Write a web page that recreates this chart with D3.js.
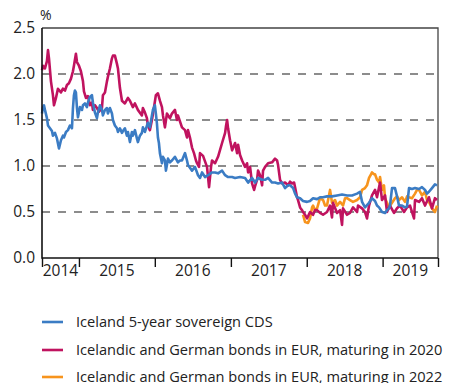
<!DOCTYPE html>
<html>
<head>
<meta charset="utf-8">
<script src="https://cdn.jsdelivr.net/npm/d3@7"></script>
<style>
  html, body { margin: 0; padding: 0; background: #fff; }
  svg { display: block; font-family: "Open Sans", "DejaVu Sans", sans-serif; }
</style>
</head>
<body>
<svg id="chart" width="454" height="383"></svg>
<script>
// Series: [decimal year, percent]
const cdsSeries = [
  [2014.513,1.57],[2014.526,1.64],[2014.539,1.66],[2014.552,1.61],[2014.578,1.52],[2014.592,1.44],[2014.618,1.41],[2014.644,1.38],
  [2014.657,1.33],[2014.684,1.36],[2014.710,1.30],[2014.737,1.19],[2014.763,1.28],[2014.789,1.33],[2014.802,1.31],[2014.829,1.37],
  [2014.855,1.39],[2014.881,1.44],[2014.908,1.41],[2014.921,1.63],[2014.934,1.77],[2014.947,1.82],[2014.960,1.80],[2014.974,1.63],
  [2014.987,1.53],[2015.013,1.64],[2015.040,1.61],[2015.053,1.66],[2015.079,1.68],[2015.105,1.64],[2015.119,1.69],[2015.145,1.75],
  [2015.171,1.77],[2015.184,1.69],[2015.211,1.58],[2015.237,1.52],[2015.250,1.58],[2015.277,1.66],[2015.303,1.61],[2015.316,1.55],
  [2015.343,1.61],[2015.369,1.63],[2015.382,1.57],[2015.408,1.63],[2015.435,1.57],[2015.448,1.50],[2015.474,1.44],[2015.501,1.41],
  [2015.514,1.37],[2015.540,1.41],[2015.567,1.36],[2015.580,1.38],[2015.606,1.41],[2015.632,1.33],[2015.646,1.37],[2015.672,1.26],
  [2015.698,1.37],[2015.711,1.33],[2015.738,1.39],[2015.764,1.30],[2015.777,1.26],[2015.804,1.33],[2015.830,1.36],[2015.843,1.42],
  [2015.870,1.37],[2015.909,1.47],[2015.935,1.42],[2015.962,1.55],[2015.975,1.61],[2016.001,1.66],[2016.014,1.57],[2016.028,1.46],
  [2016.041,1.31],[2016.054,1.25],[2016.067,1.14],[2016.094,1.03],[2016.107,1.10],[2016.133,1.06],[2016.146,0.95],[2016.159,1.01],
  [2016.173,1.08],[2016.199,1.04],[2016.225,1.06],[2016.265,1.10],[2016.304,1.04],[2016.331,1.06],[2016.357,1.06],[2016.397,1.14],
  [2016.423,1.06],[2016.436,1.01],[2016.462,0.98],[2016.489,0.95],[2016.528,0.99],[2016.568,0.90],[2016.594,0.87],[2016.621,0.93],
  [2016.660,0.88],[2016.700,0.90],[2016.752,0.93],[2016.792,0.93],[2016.831,0.92],[2016.884,0.95],[2016.924,0.90],[2016.963,0.88],
  [2017.016,0.88],[2017.055,0.87],[2017.121,0.88],[2017.187,0.87],[2017.227,0.82],[2017.279,0.87],[2017.319,0.82],[2017.358,0.87],
  [2017.411,0.85],[2017.451,0.85],[2017.490,0.87],[2017.543,0.82],[2017.582,0.82],[2017.622,0.81],[2017.675,0.82],[2017.714,0.76],
  [2017.754,0.79],[2017.780,0.79],[2017.820,0.76],[2017.846,0.70],[2017.872,0.66],[2017.912,0.65],[2017.951,0.62],[2018.004,0.61],
  [2018.043,0.62],[2018.083,0.65],[2018.136,0.64],[2018.175,0.66],[2018.215,0.66],[2018.267,0.67],[2018.333,0.67],[2018.399,0.68],
  [2018.465,0.69],[2018.531,0.68],[2018.597,0.68],[2018.663,0.70],[2018.702,0.72],[2018.729,0.61],[2018.768,0.55],[2018.821,0.60],
  [2018.860,0.65],[2018.900,0.62],[2018.926,0.57],[2018.953,0.55],[2018.992,0.50],[2019.032,0.49],[2019.058,0.52],[2019.084,0.54],
  [2019.097,0.57],[2019.124,0.76],[2019.163,0.76],[2019.190,0.67],[2019.216,0.57],[2019.256,0.57],[2019.295,0.55],[2019.322,0.56],
  [2019.348,0.76],[2019.387,0.75],[2019.427,0.76],[2019.480,0.75],[2019.519,0.77],[2019.559,0.74],[2019.585,0.70],[2019.611,0.72],
  [2019.651,0.76],[2019.690,0.80],[2019.717,0.79]
];

const bonds2020 = [
  [2014.513,2.04],[2014.526,2.09],[2014.552,2.06],[2014.578,2.14],[2014.592,2.26],[2014.605,2.17],[2014.631,1.92],[2014.657,1.77],
  [2014.671,1.66],[2014.697,1.74],[2014.723,1.84],[2014.763,1.80],[2014.789,1.84],[2014.816,1.82],[2014.842,1.88],[2014.868,1.90],
  [2014.895,1.95],[2014.921,2.03],[2014.934,2.09],[2014.960,2.22],[2014.974,2.13],[2015.000,2.09],[2015.026,2.03],[2015.053,1.92],
  [2015.066,1.81],[2015.092,1.74],[2015.119,1.76],[2015.145,1.66],[2015.171,1.69],[2015.184,1.61],[2015.211,1.66],[2015.237,1.63],
  [2015.264,1.59],[2015.303,1.63],[2015.316,1.77],[2015.343,1.80],[2015.369,1.92],[2015.382,1.97],[2015.408,2.06],[2015.435,2.17],
  [2015.448,2.20],[2015.474,2.20],[2015.501,2.11],[2015.514,2.06],[2015.540,1.85],[2015.567,1.71],[2015.606,1.68],[2015.646,1.74],
  [2015.672,1.71],[2015.711,1.64],[2015.738,1.68],[2015.777,1.61],[2015.830,1.55],[2015.843,1.63],[2015.870,1.58],[2015.896,1.52],
  [2015.909,1.44],[2015.935,1.39],[2015.962,1.50],[2015.988,1.63],[2016.014,1.77],[2016.041,1.79],[2016.067,1.71],[2016.094,1.64],
  [2016.107,1.55],[2016.133,1.42],[2016.159,1.57],[2016.199,1.52],[2016.225,1.57],[2016.265,1.61],[2016.291,1.50],[2016.304,1.55],
  [2016.357,1.42],[2016.397,1.39],[2016.423,1.31],[2016.436,1.39],[2016.462,1.31],[2016.489,1.20],[2016.515,1.14],[2016.541,1.06],
  [2016.555,1.03],[2016.581,0.99],[2016.594,1.14],[2016.634,1.11],[2016.686,0.99],[2016.713,0.77],[2016.739,0.99],[2016.752,1.06],
  [2016.792,1.03],[2016.831,1.10],[2016.884,1.25],[2016.924,1.36],[2016.937,1.44],[2016.950,1.50],[2016.963,1.41],[2016.989,1.28],
  [2017.016,1.17],[2017.055,1.25],[2017.082,1.14],[2017.095,1.23],[2017.121,1.12],[2017.148,1.06],[2017.187,0.99],[2017.213,1.03],
  [2017.227,0.93],[2017.253,0.99],[2017.279,0.81],[2017.306,0.74],[2017.319,0.78],[2017.345,0.85],[2017.358,0.95],[2017.385,0.90],
  [2017.411,0.79],[2017.424,0.95],[2017.451,0.99],[2017.490,1.03],[2017.543,1.04],[2017.582,1.08],[2017.609,1.06],[2017.622,1.01],
  [2017.648,0.85],[2017.675,0.81],[2017.714,0.82],[2017.754,0.79],[2017.780,0.83],[2017.806,0.81],[2017.833,0.82],[2017.846,0.77],
  [2017.872,0.66],[2017.885,0.63],[2017.912,0.55],[2017.938,0.52],[2017.951,0.50],[2017.978,0.47],[2018.004,0.43],[2018.043,0.50],
  [2018.083,0.47],[2018.109,0.52],[2018.136,0.52],[2018.175,0.49],[2018.215,0.47],[2018.267,0.50],[2018.307,0.57],[2018.333,0.44],
  [2018.346,0.60],[2018.399,0.49],[2018.439,0.52],[2018.465,0.36],[2018.478,0.54],[2018.531,0.47],[2018.570,0.49],[2018.610,0.55],
  [2018.663,0.50],[2018.676,0.57],[2018.729,0.54],[2018.768,0.50],[2018.794,0.43],[2018.821,0.57],[2018.860,0.68],[2018.900,0.74],
  [2018.926,0.66],[2018.966,0.82],[2018.992,0.63],[2019.032,0.68],[2019.058,0.50],[2019.097,0.57],[2019.150,0.49],[2019.190,0.54],
  [2019.229,0.57],[2019.282,0.50],[2019.322,0.55],[2019.361,0.57],[2019.414,0.43],[2019.427,0.63],[2019.480,0.61],[2019.519,0.65],
  [2019.559,0.57],[2019.611,0.66],[2019.651,0.54],[2019.690,0.65],[2019.717,0.63]
];

const bonds2022 = [
  [2017.951,0.47],[2017.978,0.39],[2018.017,0.38],[2018.043,0.43],[2018.070,0.55],[2018.083,0.57],[2018.109,0.52],[2018.136,0.54],
  [2018.175,0.65],[2018.215,0.63],[2018.241,0.57],[2018.267,0.57],[2018.307,0.74],[2018.333,0.60],[2018.373,0.63],[2018.399,0.57],
  [2018.439,0.61],[2018.478,0.57],[2018.505,0.65],[2018.531,0.65],[2018.570,0.63],[2018.610,0.61],[2018.663,0.63],[2018.702,0.66],
  [2018.729,0.74],[2018.768,0.76],[2018.794,0.79],[2018.821,0.87],[2018.847,0.91],[2018.860,0.93],[2018.887,0.91],[2018.900,0.91],
  [2018.926,0.85],[2018.953,0.82],[2018.966,0.88],[2018.992,0.74],[2019.018,0.79],[2019.032,0.65],[2019.058,0.60],[2019.084,0.55],
  [2019.124,0.60],[2019.163,0.65],[2019.190,0.67],[2019.216,0.63],[2019.256,0.66],[2019.295,0.61],[2019.322,0.67],[2019.348,0.66],
  [2019.387,0.65],[2019.427,0.70],[2019.453,0.74],[2019.480,0.74],[2019.519,0.68],[2019.559,0.72],[2019.585,0.63],[2019.611,0.61],
  [2019.651,0.54],[2019.690,0.50],[2019.717,0.57]
];

const seriesNames = [
  "Iceland 5-year sovereign CDS",
  "Icelandic and German bonds in EUR, maturing in 2020",
  "Icelandic and German bonds in EUR, maturing in 2022"
];
const seriesColors = ["#3b7cc4", "#c0135f", "#f7941d"];
const yTicks = [0, 0.5, 1.0, 1.5, 2.0, 2.5];
const gridTicks = [0.5, 1.0, 1.5, 2.0];
const yearLabels = [2014, 2015, 2016, 2017, 2018, 2019];
const xStart = 2014.513, xEnd = 2019.730;

// decimal year -> Date (UTC)
function toDate(t) {
  const yr = Math.floor(t);
  const a = Date.UTC(yr, 0, 1), b = Date.UTC(yr + 1, 0, 1);
  return new Date(a + (t - yr) * (b - a));
}

const svg = d3.select("#chart");
const plot = { left: 42, right: 438, top: 28, bottom: 258 };

const x = d3.scaleUtc().domain([toDate(xStart), toDate(xEnd)]).range([plot.left, plot.right]);
const y = d3.scaleLinear().domain([0, 2.5]).range([plot.bottom, plot.top]);

// dashed gridlines
svg.append("g").selectAll("line").data(gridTicks).join("line")
  .attr("x1", plot.left).attr("x2", plot.right)
  .attr("y1", d => y(d)).attr("y2", d => y(d))
  .attr("stroke", "#1a1a1a").attr("stroke-width", 1.2)
  .attr("stroke-dasharray", "8,8");

// frame: top and right
svg.append("path")
  .attr("d", `M${plot.left},${plot.top}H${plot.right}V${plot.bottom}`)
  .attr("fill", "none").attr("stroke", "#444").attr("stroke-width", 1.3);

// series lines
const line = d3.line().x(d => x(toDate(d[0]))).y(d => y(d[1]));
const drawOrder = [[bonds2022, 2], [bonds2020, 1], [cdsSeries, 0]];
svg.append("g").selectAll("path").data(drawOrder).join("path")
  .attr("d", d => line(d[0]))
  .attr("fill", "none")
  .attr("stroke", d => seriesColors[d[1]])
  .attr("stroke-width", 2.6)
  .attr("stroke-linejoin", "round");

// y axis
const yAxis = d3.axisLeft(y).tickValues(yTicks).tickSize(0).tickPadding(7).tickFormat(d3.format(".1f"));
const gy = svg.append("g").attr("transform", `translate(${plot.left},0)`).call(yAxis);
gy.select(".domain").remove();
gy.selectAll("text").attr("font-size", 15.5).attr("fill", "#222")
  .attr("font-family", '"Open Sans", sans-serif');

svg.append("line").attr("x1", plot.left).attr("x2", plot.left).attr("y1", plot.top).attr("y2", plot.bottom + 0.75)
  .attr("stroke", "#111").attr("stroke-width", 1.6);

// x axis: ticks on year boundaries and ends
const tickDates = [toDate(xStart)]
  .concat([2015, 2016, 2017, 2018, 2019].map(yr => new Date(Date.UTC(yr, 0, 1))))
  .concat([toDate(xEnd)]);
const xAxis = d3.axisBottom(x).tickValues(tickDates).tickSize(9).tickFormat("");
const gx = svg.append("g").attr("transform", `translate(0,${plot.bottom})`).call(xAxis);
gx.select(".domain").remove();
gx.selectAll(".tick line").attr("stroke", "#111").attr("stroke-width", 1.4);
svg.append("line").attr("x1", plot.left).attr("x2", plot.right).attr("y1", plot.bottom).attr("y2", plot.bottom)
  .attr("stroke", "#111").attr("stroke-width", 1.6);

// year labels centred in each visible year span
svg.append("g").selectAll("text").data(yearLabels).join("text")
  .attr("x", yr => {
    const a = Math.max(x(new Date(Date.UTC(yr, 0, 1))), plot.left);
    const b = Math.min(x(new Date(Date.UTC(yr + 1, 0, 1))), plot.right);
    return (a + b) / 2;
  })
  .attr("y", 276)
  .attr("text-anchor", "middle")
  .attr("font-size", 15.5).attr("fill", "#222")
  .text(d => d);

// unit
svg.append("text").attr("x", 40).attr("y", 20).attr("font-size", 14).attr("fill", "#222").text("%");

// legend
const legendY = [322, 350, 377];
const lg = svg.append("g").selectAll("g").data(seriesNames).join("g")
  .attr("transform", (d, i) => `translate(0,${legendY[i]})`);
lg.append("line").attr("x1", 42).attr("x2", 63).attr("y1", 0).attr("y2", 0)
  .attr("stroke", (d, i) => seriesColors[i]).attr("stroke-width", 2.6);
lg.append("text").attr("x", 76).attr("y", 0).attr("dy", "0.35em")
  .attr("font-size", 14.6).attr("fill", "#222").text(d => d);
</script>
</body>
</html>
